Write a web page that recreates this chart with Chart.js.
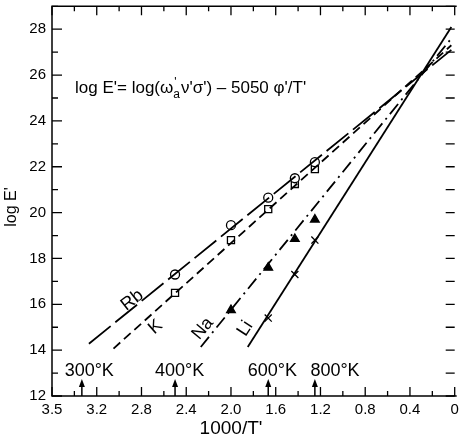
<!DOCTYPE html>
<html>
<head>
<meta charset="utf-8">
<script src="https://cdn.jsdelivr.net/npm/chart.js@4.4.1/dist/chart.umd.min.js"></script>
<style>
  html, body { margin: 0; padding: 0; background: #fff; }
</style>
</head>
<body>
<canvas id="chart" width="461" height="445"></canvas>
<script>
// measured points (x = 1000/T', y = log E')
const pointX = [2.5, 2.0, 1.667, 1.429, 1.25];
const rbValues = [17.3, 19.45, 20.65, 21.5, 22.2];
const kValues = [16.5, 18.8, 20.15, 21.25, 21.9];
const naX = [2.0, 1.667, 1.429, 1.25];
const naValues = [15.75, 17.6, 18.85, 19.7];
const liX = [1.667, 1.429, 1.25];
const liValues = [15.4, 17.3, 18.8];

// drawn lines, start and end
const rbLineX = [3.27, 0.03], rbLineY = [14.28, 27.1];
const kLineX = [3.05, 0.03], kLineY = [14.07, 27.3];
const naLineX = [2.27, 0.03], naLineY = [14.14, 27.6];
const liLineX = [1.85, 0.03], liLineY = [14.14, 28.1];

// axis ticks
const xTickValues = [3.6, 3.2, 2.8, 2.4, 2.0, 1.6, 1.2, 0.8, 0.4, 0];
const xTickText = ['3.5', '3.2', '2.8', '2.4', '2.0', '1.6', '1.2', '0.8', '0.4', '0'];
const yTickValues = [12, 14, 16, 18, 20, 22, 24, 26, 28];

// temperature marks
const tempLabels = ['300°K', '400°K', '600°K', '800°K'];
const tempX = [3.333, 2.5, 1.667, 1.25];
const tempLabelX = [3.267, 2.46, 1.63, 1.07];

// curve labels
const curveLabels = ['Rb', 'K', 'Na', 'Li'];
const curveLabelX = [2.882, 2.675, 2.252, 1.873];
const curveLabelY = [16.18, 15.01, 14.94, 14.94];
const curveLabelAngle = [-38, -41, -50, -57];

const FONT = '"Liberation Sans", "DejaVu Sans", sans-serif';

function xy(xs, ys) {
    return xs.map((x, i) => ({ x: x, y: ys[i] }));
}

function lineSet(xs, ys, dash) {
    return {
        data: xy(xs, ys), showLine: true, pointRadius: 0, borderColor: '#000',
        borderWidth: 1.8, borderDash: dash, fill: false
    };
}

function pointSet(xs, ys, style, radius, filled) {
    return {
        data: xy(xs, ys), showLine: false, pointStyle: style, pointRadius: radius,
        pointBorderColor: '#000', pointBackgroundColor: filled ? '#000' : '#fff',
        pointBorderWidth: 1.3
    };
}

const decor = {
    id: 'decor',
    afterDraw(chart) {
        const ctx = chart.ctx;
        const a = chart.chartArea;
        const sx = chart.scales.x, sy = chart.scales.y;
        ctx.save();
        ctx.strokeStyle = '#000';
        ctx.fillStyle = '#000';
        ctx.lineWidth = 1.5;

        // frame
        ctx.beginPath();
        ctx.moveTo(a.right + 2, a.top);
        ctx.lineTo(a.left, a.top);
        ctx.lineTo(a.left, a.bottom);
        ctx.lineTo(a.right + 2, a.bottom);
        ctx.stroke();

        // inward ticks
        ctx.lineWidth = 1.3;
        ctx.beginPath();
        for (let i = 0; i <= 18; i++) {
            const v = i * 0.2;
            const px = sx.getPixelForValue(v);
            const len = (i % 2 === 0) ? 9 : 5;
            ctx.moveTo(px, a.bottom); ctx.lineTo(px, a.bottom - len);
            ctx.moveTo(px, a.top); ctx.lineTo(px, a.top + len);
        }
        for (let v = 12; v <= 29; v++) {
            const py = sy.getPixelForValue(v);
            const len = (v % 2 === 0) ? 10 : 6;
            ctx.moveTo(a.left, py); ctx.lineTo(a.left + len, py);
            ctx.moveTo(a.right, py); ctx.lineTo(a.right - 9, py);
        }
        ctx.stroke();

        // temperature arrows
        ctx.font = '18px ' + FONT;
        ctx.textAlign = 'center';
        ctx.textBaseline = 'middle';
        tempX.forEach((t, i) => {
            const px = sx.getPixelForValue(t);
            ctx.lineWidth = 1.5;
            ctx.beginPath();
            ctx.moveTo(px, a.bottom);
            ctx.lineTo(px, a.bottom - 14);
            ctx.stroke();
            ctx.beginPath();
            ctx.moveTo(px, a.bottom - 17);
            ctx.lineTo(px - 3, a.bottom - 9);
            ctx.lineTo(px + 3, a.bottom - 9);
            ctx.closePath();
            ctx.fill();
            ctx.fillText(tempLabels[i], sx.getPixelForValue(tempLabelX[i]), sy.getPixelForValue(13.08));
        });

        // curve labels
        ctx.font = '18px ' + FONT;
        curveLabels.forEach((lab, i) => {
            ctx.save();
            ctx.translate(sx.getPixelForValue(curveLabelX[i]), sy.getPixelForValue(curveLabelY[i]));
            ctx.rotate(curveLabelAngle[i] * Math.PI / 180);
            ctx.fillText(lab, 0, 0);
            ctx.restore();
        });

        // equation
        ctx.textAlign = 'left';
        ctx.textBaseline = 'alphabetic';
        let x = 75;
        const base = 93;
        ctx.font = '17px ' + FONT;
        const p1 = "log E'= log(ω";
        ctx.fillText(p1, x, base);
        x += ctx.measureText(p1).width;
        ctx.font = '12px ' + FONT;
        ctx.fillText("'", x + 1, base - 7);
        ctx.fillText('a', x, base + 5);
        x += ctx.measureText('a').width + 1;
        ctx.font = '17px ' + FONT;
        ctx.fillText("ν'σ') – 5050 φ'/T'", x, base);

        // axis titles
        ctx.font = '16px ' + FONT;
        ctx.textAlign = 'center';
        ctx.textBaseline = 'middle';
        ctx.save();
        ctx.translate(12, 207);
        ctx.rotate(-Math.PI / 2);
        ctx.fillText("log E'", 0, 0);
        ctx.restore();
        ctx.font = '19px ' + FONT;
        ctx.fillText("1000/T'", 231, 429);

        ctx.restore();
    }
};

const ctx = document.getElementById('chart').getContext('2d');
const chart = new Chart(ctx, {
    type: 'scatter',
    data: {
        datasets: [
            lineSet(rbLineX, rbLineY, [28, 6]),
            lineSet(kLineX, kLineY, [9, 5]),
            lineSet(naLineX, naLineY, [13, 5, 2, 5]),
            lineSet(liLineX, liLineY, []),
            pointSet(pointX, rbValues, 'circle', 4.5, false),
            pointSet(pointX, kValues, 'rect', 5, false),
            pointSet(naX, naValues, 'triangle', 5, true),
            pointSet(liX, liValues, 'crossRot', 5, false)
        ]
    },
    options: {
        responsive: false,
        animation: false,
        devicePixelRatio: 1,
        layout: { padding: { top: 5, left: 0, right: 0, bottom: 0 } },
        plugins: { legend: { display: false }, tooltip: { enabled: false } },
        scales: {
            x: {
                type: 'linear', reverse: true, min: 0, max: 3.6,
                afterBuildTicks: s => { s.ticks = xTickValues.map(v => ({ value: v })); },
                afterFit: s => { s.height = 49; s.paddingLeft = 0; s.paddingRight = 0; },
                grid: { display: false, drawTicks: false },
                border: { display: false },
                ticks: {
                    autoSkip: false, maxRotation: 0, padding: 5, color: '#000',
                    font: { family: FONT, size: 15 },
                    callback: v => {
                        const i = xTickValues.findIndex(t => Math.abs(t - v) < 1e-6);
                        return i >= 0 ? xTickText[i] : '';
                    }
                }
            },
            y: {
                type: 'linear', min: 12, max: 29,
                afterBuildTicks: s => { s.ticks = yTickValues.map(v => ({ value: v })); },
                afterFit: s => { s.width = 52; s.paddingTop = 0; s.paddingBottom = 0; },
                grid: { display: false, drawTicks: false },
                border: { display: false },
                ticks: {
                    autoSkip: false, padding: 6, color: '#000',
                    font: { family: FONT, size: 15 }
                }
            }
        }
    },
    plugins: [decor]
});
</script>
</body>
</html>
